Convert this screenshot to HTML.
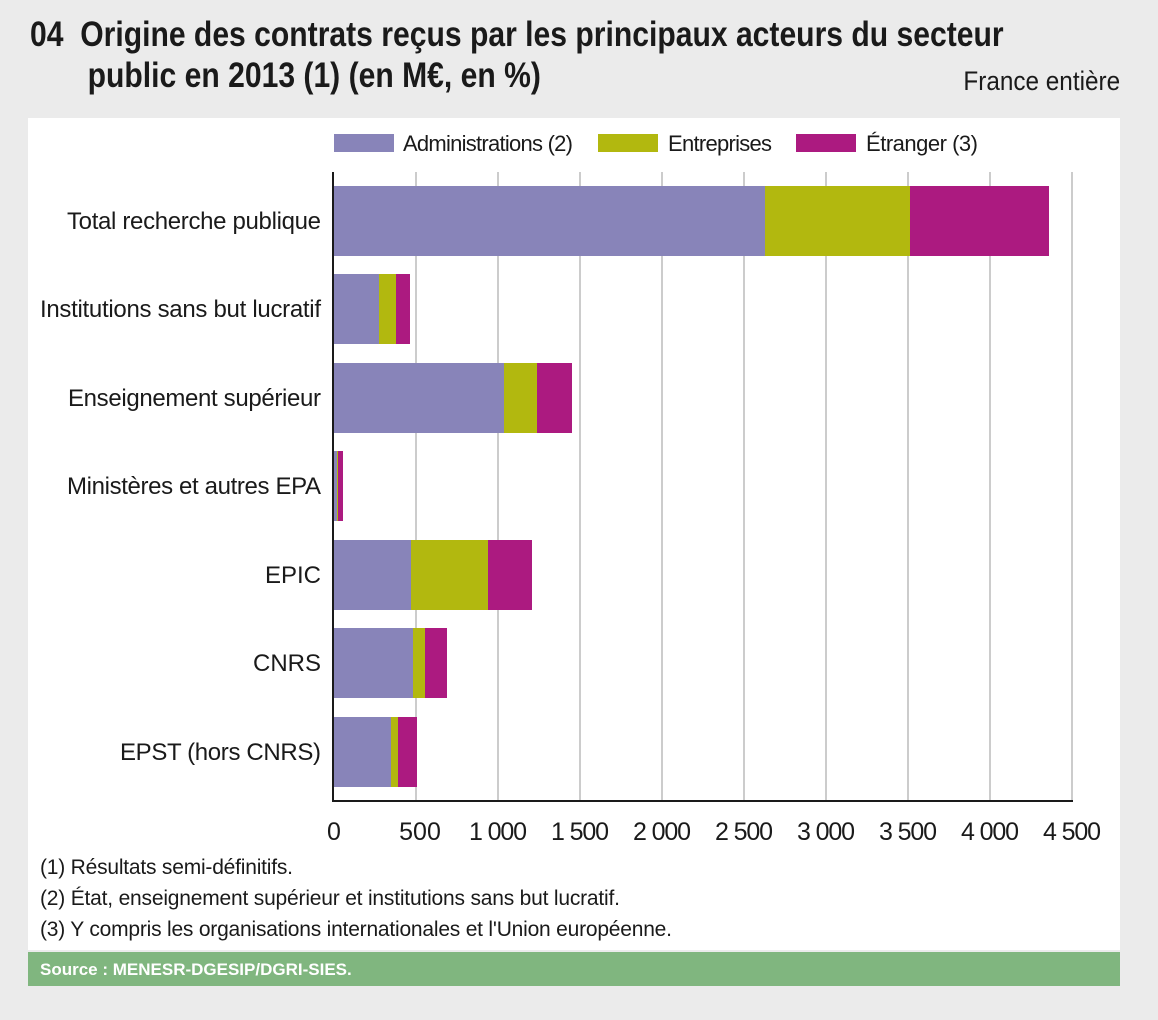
<!DOCTYPE html>
<html><head><meta charset="utf-8"><style>
body{margin:0;width:1158px;height:1020px;background:#ebebeb;font-family:"Liberation Sans",sans-serif;position:relative;overflow:hidden}
.t{position:absolute;color:#1a1a1a}
</style></head><body>
<div class="t" style="left:30px;top:14px;font-size:35px;font-weight:bold;line-height:41px;transform:scaleX(0.86);transform-origin:0 0;white-space:nowrap">04&nbsp;&nbsp;Origine des contrats reçus par les principaux acteurs du secteur<br><span style="padding-left:67px">public en 2013 (1) (en M€, en %)</span></div>
<div class="t" style="right:38px;top:66px;font-size:27px;transform:scaleX(0.9);transform-origin:100% 0">France entière</div>
<div style="position:absolute;left:28px;top:118px;width:1092px;height:832px;background:#fff"></div>
<svg style="position:absolute;left:0;top:0" width="1158" height="1020" font-family="Liberation Sans, sans-serif">
<g fill="#1a1a1a" font-size="22">
<rect x="334" y="134" width="60" height="18" fill="#8884b9"/><text x="403" y="151" textLength="170">Administrations (2)</text>
<rect x="598" y="134" width="60" height="18" fill="#b2b80f"/><text x="668" y="151" textLength="104">Entreprises</text>
<rect x="796" y="134" width="60" height="18" fill="#ac1a80"/><text x="866" y="151" textLength="112">Étranger (3)</text>
</g>
<g stroke="#999" stroke-width="1">
<line x1="416" y1="172" x2="416" y2="801"/><line x1="498" y1="172" x2="498" y2="801"/><line x1="580" y1="172" x2="580" y2="801"/><line x1="662" y1="172" x2="662" y2="801"/><line x1="744" y1="172" x2="744" y2="801"/><line x1="826" y1="172" x2="826" y2="801"/><line x1="908" y1="172" x2="908" y2="801"/><line x1="990" y1="172" x2="990" y2="801"/><line x1="1072" y1="172" x2="1072" y2="801"/>
</g>
<g>
<rect x="334" y="186" width="431" height="70" fill="#8884b9"/><rect x="765" y="186" width="145" height="70" fill="#b2b80f"/><rect x="910" y="186" width="139" height="70" fill="#ac1a80"/>
<rect x="334" y="274" width="45" height="70" fill="#8884b9"/><rect x="379" y="274" width="17" height="70" fill="#b2b80f"/><rect x="396" y="274" width="14" height="70" fill="#ac1a80"/>
<rect x="334" y="363" width="170" height="70" fill="#8884b9"/><rect x="504" y="363" width="33" height="70" fill="#b2b80f"/><rect x="537" y="363" width="35" height="70" fill="#ac1a80"/>
<rect x="334" y="451" width="3" height="70" fill="#8884b9"/><rect x="337" y="451" width="1" height="70" fill="#b2b80f"/><rect x="338" y="451" width="5" height="70" fill="#ac1a80"/>
<rect x="334" y="540" width="77" height="70" fill="#8884b9"/><rect x="411" y="540" width="77" height="70" fill="#b2b80f"/><rect x="488" y="540" width="44" height="70" fill="#ac1a80"/>
<rect x="334" y="628" width="79" height="70" fill="#8884b9"/><rect x="413" y="628" width="12" height="70" fill="#b2b80f"/><rect x="425" y="628" width="22" height="70" fill="#ac1a80"/>
<rect x="334" y="717" width="57" height="70" fill="#8884b9"/><rect x="391" y="717" width="7" height="70" fill="#b2b80f"/><rect x="398" y="717" width="19" height="70" fill="#ac1a80"/>
</g>
<line x1="333" y1="172" x2="333" y2="802" stroke="#1a1a1a" stroke-width="2"/>
<line x1="332" y1="801" x2="1073" y2="801" stroke="#1a1a1a" stroke-width="2"/>
<g fill="#1a1a1a" font-size="24" text-anchor="end">
<text x="321" y="229" textLength="254">Total recherche publique</text>
<text x="321" y="317" textLength="281">Institutions sans but lucratif</text>
<text x="321" y="406" textLength="253">Enseignement supérieur</text>
<text x="321" y="494" textLength="254">Ministères et autres EPA</text>
<text x="321" y="583">EPIC</text>
<text x="321" y="671">CNRS</text>
<text x="321" y="760" textLength="201">EPST (hors CNRS)</text>
</g>
<g fill="#1a1a1a" font-size="25" text-anchor="middle">
<text x="334" y="840">0</text><text x="420" y="840">500</text><text x="498" y="840" textLength="58">1 000</text><text x="580" y="840" textLength="58">1 500</text><text x="662" y="840" textLength="58">2 000</text><text x="744" y="840" textLength="58">2 500</text><text x="826" y="840" textLength="58">3 000</text><text x="908" y="840" textLength="58">3 500</text><text x="990" y="840" textLength="58">4 000</text><text x="1072" y="840" textLength="58">4 500</text>
</g>
<g fill="#1a1a1a" font-size="21">
<text x="40" y="874" textLength="253">(1) Résultats semi-définitifs.</text>
<text x="40" y="905" textLength="580">(2) État, enseignement supérieur et institutions sans but lucratif.</text>
<text x="40" y="936" textLength="632">(3) Y compris les organisations internationales et l'Union européenne.</text>
</g>
<rect x="28" y="952" width="1092" height="34" fill="#80b67f"/>
<text x="40" y="975" fill="#fff" font-size="17" font-weight="bold">Source : MENESR-DGESIP/DGRI-SIES.</text>
</svg>
</body></html>
